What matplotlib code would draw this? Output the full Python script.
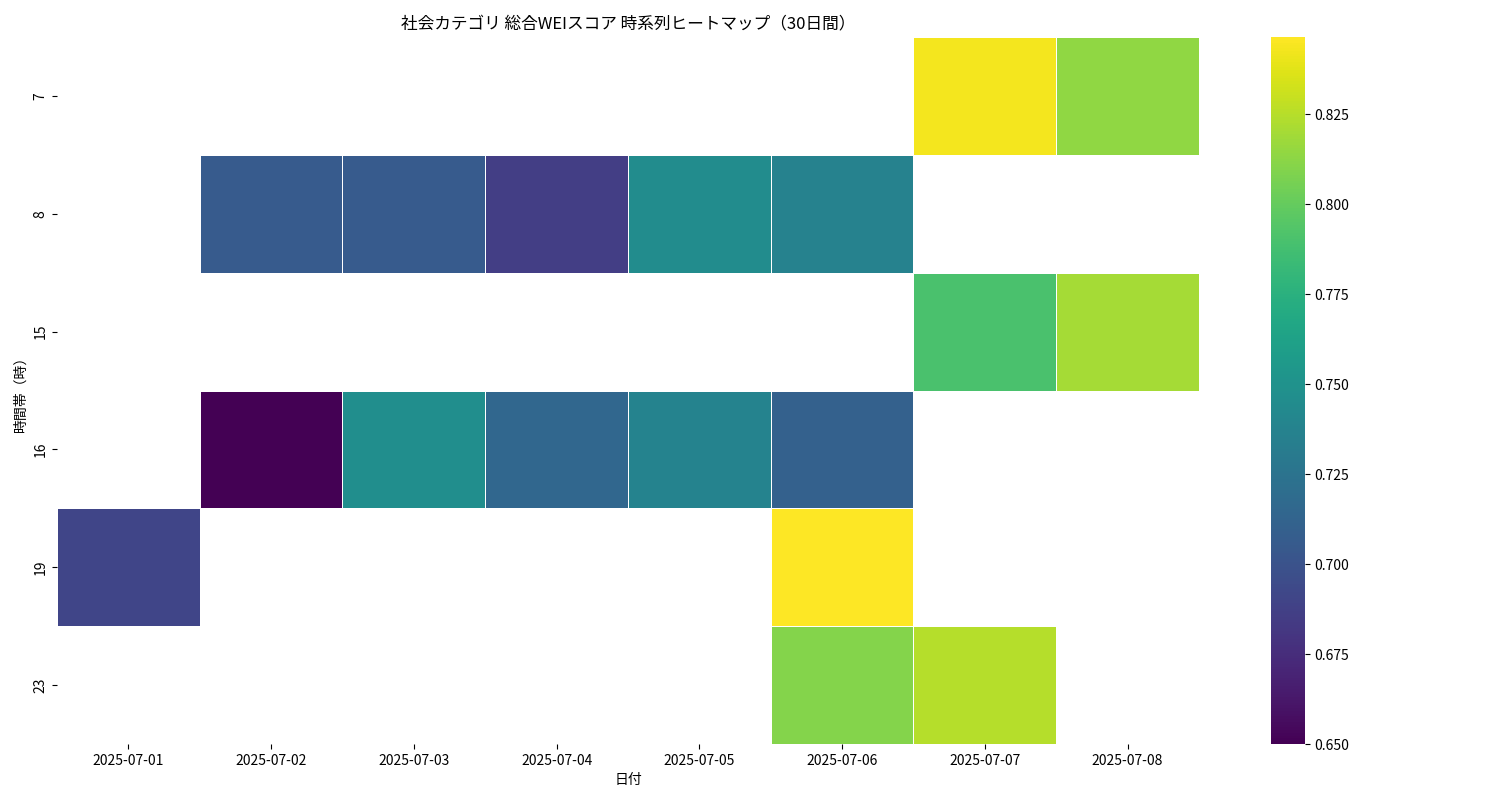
import numpy as np
import matplotlib
matplotlib.use("Agg")
import matplotlib.pyplot as plt

plt.rcParams["font.family"] = "Noto Sans CJK JP"

dates = ["2025-07-01","2025-07-02","2025-07-03","2025-07-04","2025-07-05","2025-07-06","2025-07-07","2025-07-08"]
hours = ["7","8","15","16","19","23"]
nan = np.nan
h7  = [nan, nan, nan, nan, nan, nan, 0.843, 0.814]
h8  = [nan, 0.706, 0.706, 0.686, 0.745, 0.736, nan, nan]
h15 = [nan, nan, nan, nan, nan, nan, 0.790, 0.820]
h16 = [nan, 0.650, 0.746, 0.715, 0.738, 0.710, nan, nan]
h19 = [0.690, nan, nan, nan, nan, 0.846, nan, nan]
h23 = [nan, nan, nan, nan, nan, 0.810, 0.825, nan]

data = np.ma.masked_invalid(np.array([h7, h8, h15, h16, h19, h23]))
vmin, vmax = 0.650, 0.8465

fig = plt.figure(figsize=(15, 8), dpi=100)
ax = fig.add_axes([0.038, 0.07, 0.7613, 0.8837])
cax = fig.add_axes([0.8473, 0.07, 0.0227, 0.8837])
m = ax.pcolormesh(data, cmap="viridis", vmin=vmin, vmax=vmax, edgecolor="white", linewidth=0.5)
ax.set_xlim(0, len(dates)); ax.set_ylim(len(hours), 0)
ax.set_xticks(np.arange(len(dates)) + 0.5, dates)
ax.set_yticks(np.arange(len(hours)) + 0.5, hours, rotation=90, va="center")
for s in ax.spines.values():
    s.set_visible(False)
ax.set_xlabel("日付")
ax.set_ylabel("時間帯（時）")
ax.set_title("社会カテゴリ 総合WEIスコア 時系列ヒートマップ（30日間）")
cb = fig.colorbar(m, cax=cax)
cb.set_ticks(np.arange(0.650, 0.8401, 0.025))
cb.outline.set_visible(False)
fig.savefig("out.png", dpi=100)
